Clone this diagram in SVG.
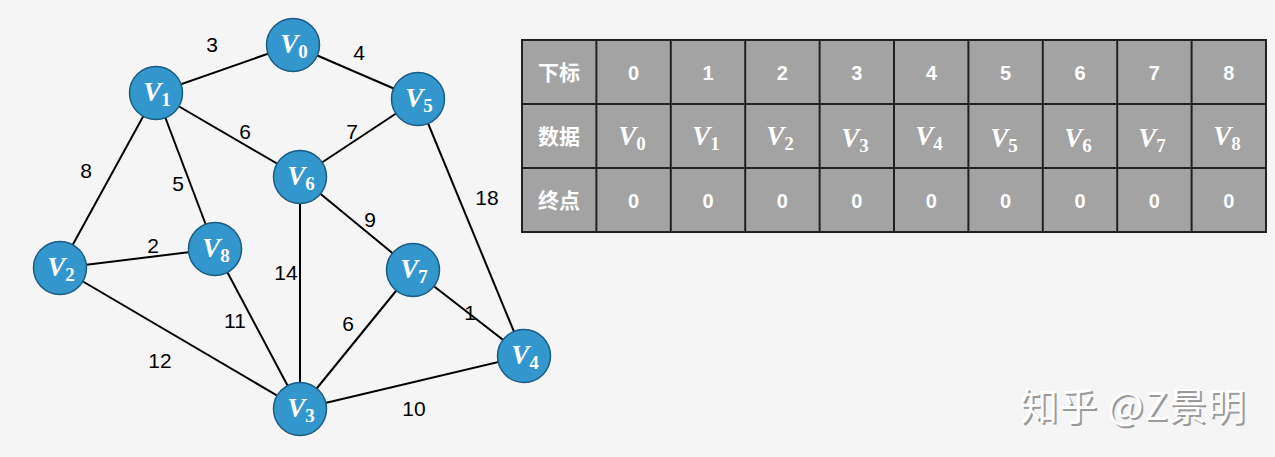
<svg xmlns="http://www.w3.org/2000/svg" width="1275" height="457" viewBox="0 0 1275 457">
<style>
.edge{stroke:#000;stroke-width:2;fill:none}
.node circle{fill:#3397cd;stroke:#1b5c82;stroke-width:1.5}
.node text{text-anchor:middle}
.v{font-family:"Liberation Serif",serif;font-weight:bold;font-style:italic;font-size:27px;fill:#fff}
.vs{font-family:"Liberation Serif",serif;font-weight:bold;font-size:19px;fill:#fff;font-style:normal}
.w{font-family:"Liberation Sans",Arial,sans-serif;font-size:21px;fill:#000;text-anchor:middle}
.t{font-family:"Liberation Sans","Noto Sans CJK SC",sans-serif;font-size:20px;font-weight:bold;fill:#fff;text-anchor:middle}
.tc{font-family:"Noto Sans CJK SC",sans-serif;font-size:21px;font-weight:bold;fill:#fff;text-anchor:middle}
.tv{text-anchor:middle}
.wm{font-family:"Noto Sans CJK SC","Liberation Sans",sans-serif;font-size:38px;letter-spacing:1px}
</style>
<rect width="1275" height="457" fill="#f5f5f5"/>
<g id="connectors">
<line class="edge" x1="156" y1="93" x2="293" y2="45"/>
<line class="edge" x1="293" y1="45" x2="418" y2="99"/>
<line class="edge" x1="156" y1="93" x2="300" y2="177"/>
<line class="edge" x1="418" y1="99" x2="300" y2="177"/>
<line class="edge" x1="156" y1="93" x2="60" y2="268"/>
<line class="edge" x1="156" y1="93" x2="215" y2="249"/>
<line class="edge" x1="418" y1="99" x2="524" y2="356"/>
<line class="edge" x1="300" y1="177" x2="300" y2="409"/>
<line class="edge" x1="300" y1="177" x2="413" y2="270"/>
<line class="edge" x1="60" y1="268" x2="215" y2="249"/>
<line class="edge" x1="60" y1="268" x2="300" y2="409"/>
<line class="edge" x1="215" y1="249" x2="300" y2="409"/>
<line class="edge" x1="413" y1="270" x2="300" y2="409"/>
<line class="edge" x1="413" y1="270" x2="524" y2="356"/>
<line class="edge" x1="300" y1="409" x2="524" y2="356"/>
<text class="w" x="212" y="52">3</text>
<text class="w" x="359" y="60">4</text>
<text class="w" x="245" y="139">6</text>
<text class="w" x="352" y="139">7</text>
<text class="w" x="86" y="178">8</text>
<text class="w" x="178" y="191">5</text>
<text class="w" x="487" y="205">18</text>
<text class="w" x="370" y="227">9</text>
<text class="w" x="153" y="253">2</text>
<text class="w" x="286" y="280">14</text>
<text class="w" x="235" y="328">11</text>
<text class="w" x="348" y="331">6</text>
<text class="w" x="470" y="320">1</text>
<text class="w" x="160" y="368">12</text>
<text class="w" x="414" y="416">10</text>
</g>
<g id="node-v0" class="node"><circle cx="293" cy="45" r="26.5"/><text x="294" y="53"><tspan class="v">V</tspan><tspan class="vs" dy="5">0</tspan></text></g>
<g id="node-v1" class="node"><circle cx="156" cy="93" r="26.5"/><text x="157" y="101"><tspan class="v">V</tspan><tspan class="vs" dy="5">1</tspan></text></g>
<g id="node-v2" class="node"><circle cx="60" cy="268" r="26.5"/><text x="61" y="276"><tspan class="v">V</tspan><tspan class="vs" dy="5">2</tspan></text></g>
<g id="node-v3" class="node"><circle cx="300" cy="409" r="26.5"/><text x="301" y="417"><tspan class="v">V</tspan><tspan class="vs" dy="5">3</tspan></text></g>
<g id="node-v4" class="node"><circle cx="524" cy="356" r="26.5"/><text x="525" y="364"><tspan class="v">V</tspan><tspan class="vs" dy="5">4</tspan></text></g>
<g id="node-v5" class="node"><circle cx="418" cy="99" r="26.5"/><text x="419" y="107"><tspan class="v">V</tspan><tspan class="vs" dy="5">5</tspan></text></g>
<g id="node-v6" class="node"><circle cx="300" cy="177" r="26.5"/><text x="301" y="185"><tspan class="v">V</tspan><tspan class="vs" dy="5">6</tspan></text></g>
<g id="node-v7" class="node"><circle cx="413" cy="270" r="26.5"/><text x="414" y="278"><tspan class="v">V</tspan><tspan class="vs" dy="5">7</tspan></text></g>
<g id="node-v8" class="node"><circle cx="215" cy="249" r="26.5"/><text x="216" y="257"><tspan class="v">V</tspan><tspan class="vs" dy="5">8</tspan></text></g>
<g id="table">
<rect x="522" y="40" width="744" height="192" fill="#a3a3a3" stroke="#222" stroke-width="2"/>
<g stroke="#222" stroke-width="2">
<line x1="522" y1="104" x2="1266" y2="104"/>
<line x1="522" y1="168" x2="1266" y2="168"/>
<line x1="596.4" y1="40" x2="596.4" y2="232"/>
<line x1="670.8" y1="40" x2="670.8" y2="232"/>
<line x1="745.2" y1="40" x2="745.2" y2="232"/>
<line x1="819.6" y1="40" x2="819.6" y2="232"/>
<line x1="894" y1="40" x2="894" y2="232"/>
<line x1="968.4" y1="40" x2="968.4" y2="232"/>
<line x1="1042.8" y1="40" x2="1042.8" y2="232"/>
<line x1="1117.2" y1="40" x2="1117.2" y2="232"/>
<line x1="1191.6" y1="40" x2="1191.6" y2="232"/>
</g>
<text class="tc" x="559" y="80">下标</text>
<text class="tc" x="559" y="144">数据</text>
<text class="tc" x="559" y="208">终点</text>
<text class="t" x="633.6" y="80">0</text>
<text class="t" x="708" y="80">1</text>
<text class="t" x="782.4" y="80">2</text>
<text class="t" x="856.8" y="80">3</text>
<text class="t" x="931.2" y="80">4</text>
<text class="t" x="1005.6" y="80">5</text>
<text class="t" x="1080" y="80">6</text>
<text class="t" x="1154.4" y="80">7</text>
<text class="t" x="1228.8" y="80">8</text>
<text class="tv" x="632" y="145"><tspan class="v" font-size="24">V</tspan><tspan class="vs" dy="5">0</tspan></text>
<text class="tv" x="706" y="145"><tspan class="v" font-size="24">V</tspan><tspan class="vs" dy="5">1</tspan></text>
<text class="tv" x="780" y="145"><tspan class="v" font-size="24">V</tspan><tspan class="vs" dy="5">2</tspan></text>
<text class="tv" x="855" y="147"><tspan class="v" font-size="24">V</tspan><tspan class="vs" dy="5">3</tspan></text>
<text class="tv" x="929" y="145"><tspan class="v" font-size="24">V</tspan><tspan class="vs" dy="5">4</tspan></text>
<text class="tv" x="1004" y="147"><tspan class="v" font-size="24">V</tspan><tspan class="vs" dy="5">5</tspan></text>
<text class="tv" x="1078" y="147"><tspan class="v" font-size="24">V</tspan><tspan class="vs" dy="5">6</tspan></text>
<text class="tv" x="1152" y="147"><tspan class="v" font-size="24">V</tspan><tspan class="vs" dy="5">7</tspan></text>
<text class="tv" x="1227" y="145"><tspan class="v" font-size="24">V</tspan><tspan class="vs" dy="5">8</tspan></text>
<text class="t" x="633.6" y="208">0</text>
<text class="t" x="708" y="208">0</text>
<text class="t" x="782.4" y="208">0</text>
<text class="t" x="856.8" y="208">0</text>
<text class="t" x="931.2" y="208">0</text>
<text class="t" x="1005.6" y="208">0</text>
<text class="t" x="1080" y="208">0</text>
<text class="t" x="1154.4" y="208">0</text>
<text class="t" x="1228.8" y="208">0</text>
</g>
<g id="watermark">
<text class="wm" x="1022" y="422" fill="#9a9a9a">知乎 @Z景明</text>
<text class="wm" x="1020" y="420" fill="#ffffff">知乎 @Z景明</text>
</g>
</svg>
